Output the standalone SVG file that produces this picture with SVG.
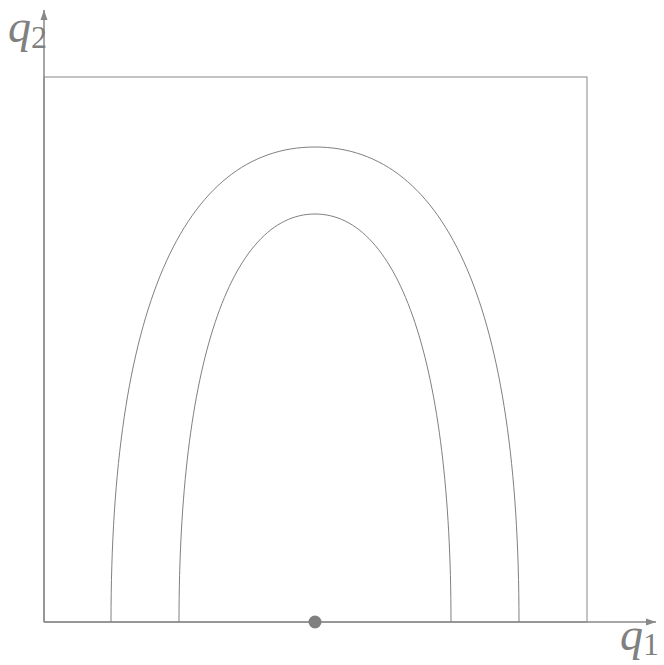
<svg xmlns="http://www.w3.org/2000/svg" width="664" height="665" viewBox="0 0 664 665">
<defs>
<style>
.ax{stroke:#888;stroke-width:1.5;fill:none}
.ln{stroke:#888;stroke-width:1;fill:none}
.cv{stroke:#808080;stroke-width:1;fill:none}
.lbl{font-family:"Liberation Serif","DejaVu Serif",serif;fill:#808080}
</style>
<marker id="arr" viewBox="0 0 10 8" refX="10" refY="4" markerWidth="10" markerHeight="8" markerUnits="userSpaceOnUse" orient="auto">
<path d="M0,0.5 L10,4 L0,7.5 z" fill="#888"/>
</marker>
</defs>
<rect width="664" height="665" fill="#fff"/>
<g id="box"><rect class="ln" x="44" y="77" width="543" height="545"/></g>
<g id="connectors">
<line class="ax" x1="44" y1="622" x2="656" y2="622" marker-end="url(#arr)"/>
<line class="ax" x1="44" y1="622" x2="44" y2="10" marker-end="url(#arr)"/>
</g>
<g id="outer"><path class="cv" d="M111,622 C111,313 182,147 315,147 C448,147 519,313 519,622"/></g>
<g id="inner"><path class="cv" d="M179,622 C179,367 230,214 315,214 C400,214 451,367 451,622"/></g>
<g id="point"><circle cx="315" cy="622" r="6.5" fill="#808080"/></g>
<g id="label-q2"><text class="lbl" x="8" y="42" font-size="46"><tspan font-style="italic">q</tspan><tspan font-size="32" dy="6">2</tspan></text></g>
<g id="label-q1"><text class="lbl" x="620" y="650" font-size="46"><tspan font-style="italic">q</tspan><tspan font-size="32" dy="5">1</tspan></text></g>
</svg>
